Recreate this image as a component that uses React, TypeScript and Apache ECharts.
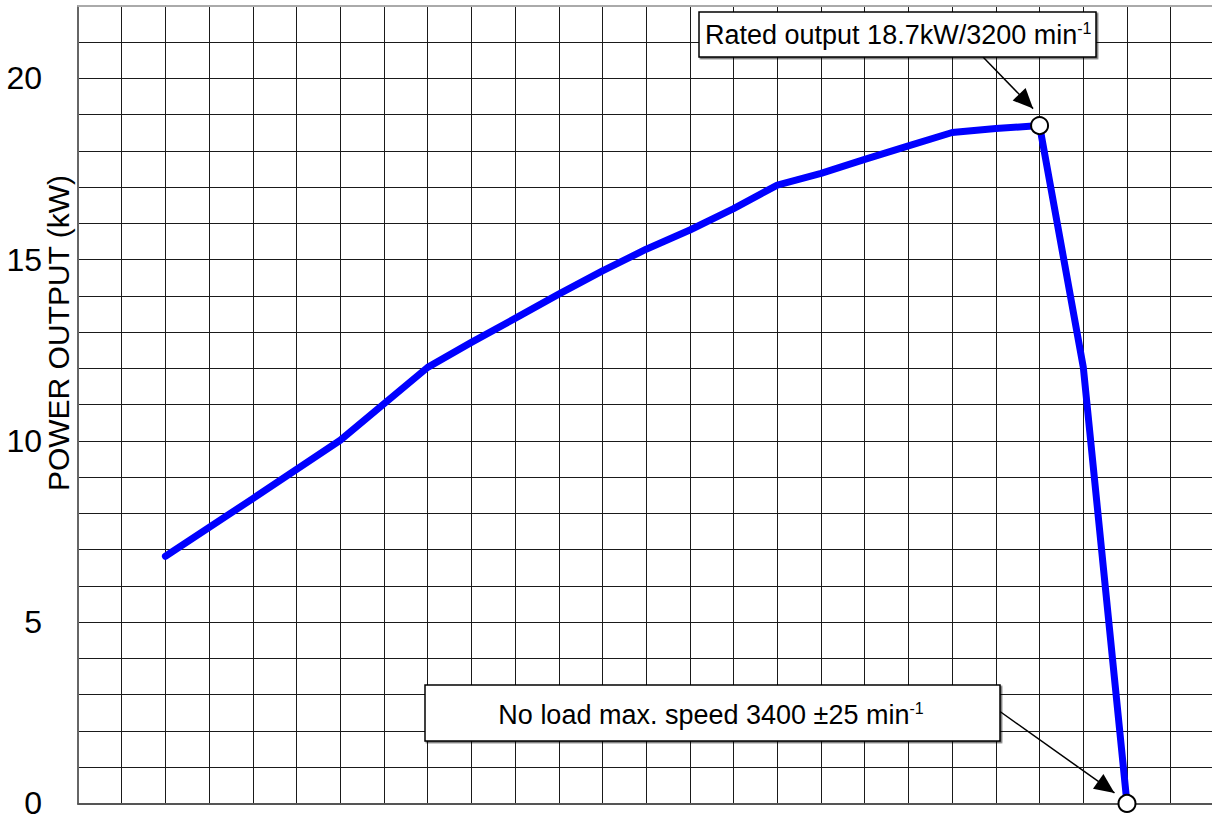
import React, { useEffect, useRef } from "react";
import * as echarts from "echarts";

// Engine speed (min^-1) and power output (kW)
const rpm = [1200, 1400, 1600, 1800, 1900, 2000, 2100, 2200, 2300, 2400, 2500, 2600, 2700, 2800, 2900, 3000, 3100, 3200, 3300, 3400];
const power = [6.82, 8.41, 10.02, 12.03, 12.72, 13.38, 14.05, 14.69, 15.29, 15.82, 16.41, 17.06, 17.38, 17.77, 18.14, 18.51, 18.62, 18.7, 12.04, 0];

// Highlighted points
const markerRpm = [3200, 3400];
const markerPower = [18.7, 0];

// Axis settings
const xMin = 1000;
const xMax = 3600;
const xStep = 100;
const yMin = 0;
const yMax = 22;
const yStep = 1;
const yLabelEvery = 5;

const yTitle = "POWER OUTPUT (kW)";
const note1Main = "Rated output 18.7kW/3200 min";
const note2Main = "No load max. speed 3400 ±25 min";
const supText = "-1";

const FONT = "'Liberation Sans', Arial, sans-serif";

function arrowHead(from: number[], to: number[], len: number, half: number) {
  const dx = to[0] - from[0];
  const dy = to[1] - from[1];
  const d = Math.sqrt(dx * dx + dy * dy) || 1;
  const ux = dx / d;
  const uy = dy / d;
  const bx = to[0] - ux * len;
  const by = to[1] - uy * len;
  return [
    [to[0], to[1]],
    [bx - uy * half, by + ux * half],
    [bx + uy * half, by - ux * half],
  ];
}

export default function App() {
  const ref = useRef<HTMLDivElement>(null);

  useEffect(() => {
    if (!ref.current) return;
    const chart = echarts.init(ref.current, undefined, { renderer: "svg" });

    const option: any = {
      animation: false,
      backgroundColor: "#fff",
      grid: {
        left: 78,
        top: 6,
        width: 1136.4,
        height: 797.4,
        containLabel: false,
        outerBoundsMode: "none",
      },
      xAxis: [
        {
          type: "value",
          min: xMin,
          max: xMax,
          interval: xStep,
          axisLine: { show: true, onZero: false, lineStyle: { color: "#555", width: 2 } },
          axisTick: { show: false },
          axisLabel: { show: false },
          splitLine: { show: true, lineStyle: { color: "#1a1a1a", width: 1 } },
        },
        {
          type: "value",
          position: "top",
          min: xMin,
          max: xMax,
          interval: xStep,
          axisLine: { show: true, onZero: false, lineStyle: { color: "#aaa", width: 2 } },
          axisTick: { show: false },
          axisLabel: { show: false },
          splitLine: { show: false },
        },
      ],
      yAxis: {
        type: "value",
        min: yMin,
        max: yMax,
        interval: yStep,
        axisLine: { show: true, onZero: false, lineStyle: { color: "#666", width: 2 } },
        axisTick: { show: false },
        axisLabel: {
          show: true,
          margin: 36,
          fontSize: 32,
          color: "#000",
          fontFamily: FONT,
          formatter: (v: number) => (v % yLabelEvery === 0 ? String(v) : ""),
        },
        splitLine: { show: true, lineStyle: { color: "#1a1a1a", width: 1 } },
      },
      series: [
        {
          type: "line",
          data: rpm.map((r, i) => [r, power[i]]),
          symbol: "none",
          lineStyle: { color: "#0000ff", width: 7, cap: "round", join: "round" },
          z: 3,
        },
        {
          type: "scatter",
          data: markerRpm.map((r, i) => [r, markerPower[i]]),
          symbol: "circle",
          symbolSize: 17,
          itemStyle: { color: "#fff", borderColor: "#000", borderWidth: 2, opacity: 1 },
          z: 5,
        },
      ],
    };
    chart.setOption(option);

    const p1 = chart.convertToPixel({ gridIndex: 0 }, [markerRpm[0], markerPower[0]]) as number[];
    const p2 = chart.convertToPixel({ gridIndex: 0 }, [markerRpm[1], markerPower[1]]) as number[];

    const tip1 = [p1[0] - 6.5, p1[1] - 17];
    const start1 = [983, 57];
    const tip2 = [p2[0] - 12.5, p2[1] - 10.5];
    const start2 = [1000, 711.5];

    const boxStyle = {
      fill: "#fff",
      stroke: "#000",
      lineWidth: 1.5,
      shadowColor: "rgba(0,0,0,0.55)",
      shadowOffsetX: 1.5,
      shadowOffsetY: 1.5,
      shadowBlur: 0,
    };
    const rich = {
      a: { fontSize: 27, lineHeight: 30, fontFamily: FONT, fill: "#000" },
      s: { fontSize: 16, lineHeight: 16, verticalAlign: "top", fontFamily: FONT, fill: "#000" },
    };

    chart.setOption({
      graphic: [
        {
          type: "text",
          x: 58.5,
          y: 333,
          rotation: Math.PI / 2,
          style: {
            text: yTitle,
            fontSize: 30,
            fontFamily: FONT,
            fill: "#000",
            align: "center",
            verticalAlign: "middle",
          },
          z: 10,
        },
        {
          type: "line",
          shape: { x1: start1[0], y1: start1[1], x2: tip1[0], y2: tip1[1] },
          style: { stroke: "#000", lineWidth: 1.5 },
          z: 10,
        },
        {
          type: "polygon",
          shape: { points: arrowHead(start1, tip1, 20, 9) },
          style: { fill: "#000" },
          z: 10,
        },
        {
          type: "rect",
          shape: { x: 699, y: 12, width: 397, height: 45 },
          style: boxStyle,
          z: 11,
        },
        {
          type: "text",
          x: 705,
          y: 35,
          style: {
            text: `{a|${note1Main}}{s|${supText}}`,
            rich,
            align: "left",
            verticalAlign: "middle",
          },
          z: 12,
        },
        {
          type: "line",
          shape: { x1: start2[0], y1: start2[1], x2: tip2[0], y2: tip2[1] },
          style: { stroke: "#000", lineWidth: 1.5 },
          z: 10,
        },
        {
          type: "polygon",
          shape: { points: arrowHead(start2, tip2, 20, 9) },
          style: { fill: "#000" },
          z: 10,
        },
        {
          type: "rect",
          shape: { x: 425, y: 685, width: 575, height: 56 },
          style: boxStyle,
          z: 11,
        },
        {
          type: "text",
          x: 711,
          y: 715,
          style: {
            text: `{a|${note2Main}}{s|${supText}}`,
            rich,
            align: "center",
            verticalAlign: "middle",
          },
          z: 12,
        },
      ],
    });

    return () => chart.dispose();
  }, []);

  return (
    <div
      ref={ref}
      style={{ position: "absolute", left: 0, top: 0, width: 1212, height: 814 }}
    />
  );
}
